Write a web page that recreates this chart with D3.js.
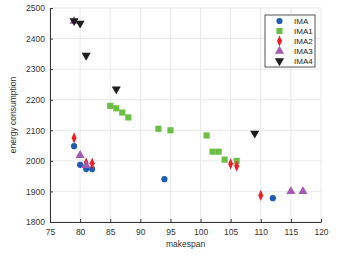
<!DOCTYPE html>
<html>
<head>
<meta charset="utf-8">
<script src="https://cdn.jsdelivr.net/npm/d3@7"></script>
<style>
  body { margin: 0; background: #fff; }
  svg { display: block; font-family: "Liberation Sans", Arial, sans-serif; }
</style>
</head>
<body>
<svg id="plot"></svg>
<script>
// Series data: [makespan, energy consumption]
const seriesNames = ["IMA", "IMA1", "IMA2", "IMA3", "IMA4"];
const ima  = [[79, 2048], [80, 1987], [81, 1973], [82, 1973], [94, 1940], [112, 1878]];
const ima1 = [[85, 2180], [86, 2172], [87, 2158], [88, 2142], [93, 2105], [95, 2100],
              [101, 2083], [102, 2030], [103, 2030], [104, 2004], [106, 2000]];
const ima2 = [[79, 2075], [81, 1993], [82, 1992], [105, 1990], [106, 1983], [110, 1887]];
const ima3 = [[79, 2457], [80, 2018], [81, 1985], [115, 1900], [117, 1900]];
const ima4 = [[79, 2458], [80, 2450], [81, 2345], [86, 2235], [109, 2090]];
const xTicks = [75, 80, 85, 90, 95, 100, 105, 110, 115, 120];
const yTicks = [1800, 1900, 2000, 2100, 2200, 2300, 2400, 2500];

const width = 364, height = 257;
const margin = {top: 8, right: 43, bottom: 35, left: 50};

const svg = d3.select("#plot")
    .attr("width", width)
    .attr("height", height);

const x = d3.scaleLinear().domain([75, 120]).range([margin.left, width - margin.right]);
const y = d3.scaleLinear().domain([1800, 2500]).range([height - margin.bottom, margin.top]);

// grid
svg.append("g")
  .selectAll("line")
  .data(xTicks)
  .join("line")
    .attr("x1", d => x(d)).attr("x2", d => x(d))
    .attr("y1", y(1800)).attr("y2", y(2500))
    .attr("stroke", "#e3e3e3").attr("stroke-width", 0.8);
svg.append("g")
  .selectAll("line")
  .data(yTicks)
  .join("line")
    .attr("x1", x(75)).attr("x2", x(120))
    .attr("y1", d => y(d)).attr("y2", d => y(d))
    .attr("stroke", "#e3e3e3").attr("stroke-width", 0.8);

// axes (ticks inward)
const xAxis = svg.append("g")
    .attr("transform", `translate(0,${y(1800)})`)
    .call(d3.axisBottom(x).tickValues(xTicks).tickFormat(d3.format("d"))
      .tickSizeInner(-3).tickSizeOuter(0).tickPadding(7));
const yAxis = svg.append("g")
    .attr("transform", `translate(${x(75)},0)`)
    .call(d3.axisLeft(y).tickValues(yTicks).tickFormat(d3.format("d"))
      .tickSizeInner(-3).tickSizeOuter(0).tickPadding(5));
[xAxis, yAxis].forEach(a => {
  a.select(".domain").attr("stroke", "#333");
  a.selectAll(".tick line").attr("stroke", "#333");
  a.selectAll("text").attr("fill", "#333").style("font-size", "8.5px");
});

// axis labels
svg.append("text")
    .attr("x", (x(75) + x(120)) / 2)
    .attr("y", height - 10)
    .attr("text-anchor", "middle")
    .attr("fill", "#333")
    .style("font-size", "8.5px")
    .text("makespan");
svg.append("text")
    .attr("transform", `translate(16,${(y(1800) + y(2500)) / 2}) rotate(-90)`)
    .attr("text-anchor", "middle")
    .attr("fill", "#333")
    .style("font-size", "8.5px")
    .text("energy consumption");

const styles = [
  {data: ima,  color: "#1f5cb0", shape: d3.symbolCircle,   size: 30, rot: 0},
  {data: ima1, color: "#6cbe45", shape: d3.symbolSquare,   size: 38, rot: 0},
  {data: ima2, color: "#ee1c25", shape: d3.symbolDiamond,  size: 30, rot: 0},
  {data: ima3, color: "#a35bb0", shape: d3.symbolTriangle, size: 36, rot: 0},
  {data: ima4, color: "#1e1e1e", shape: d3.symbolTriangle, size: 36, rot: 180}
];

const sym = s => d3.symbol().type(s.shape).size(s.size)();
const squash = s => s.shape === d3.symbolDiamond ? "0.85,1.1" : "1";

styles.forEach(s => {
  svg.append("g")
    .selectAll("path")
    .data(s.data)
    .join("path")
      .attr("d", sym(s))
      .attr("fill", s.color)
      .attr("transform", d => `translate(${x(d[0])},${y(d[1])}) rotate(${s.rot}) scale(${squash(s)})`);
});

// legend
const lg = svg.append("g").attr("transform", "translate(265,15)");
lg.append("rect")
    .attr("width", 50).attr("height", 52)
    .attr("fill", "#fff").attr("stroke", "#555").attr("stroke-width", 1);
styles.forEach((s, i) => {
  const row = lg.append("g").attr("transform", `translate(0,${6 + i * 10})`);
  row.append("path")
      .attr("d", sym(s))
      .attr("fill", s.color)
      .attr("transform", `translate(14.5,0) rotate(${s.rot}) scale(${squash(s)})`);
  row.append("text")
      .attr("x", 29).attr("y", 3)
      .attr("fill", "#222")
      .style("font-size", "8px")
      .text(seriesNames[i]);
});
</script>
</body>
</html>
